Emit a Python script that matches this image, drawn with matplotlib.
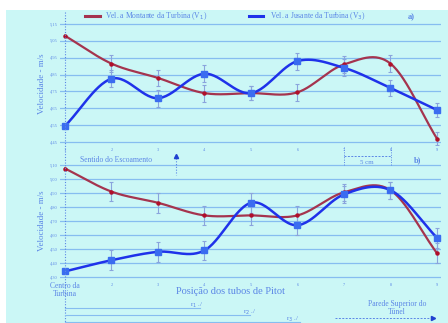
import numpy as np
import matplotlib
matplotlib.use('Agg')
import matplotlib.pyplot as plt
from matplotlib.patches import Rectangle

# Posições dos tubos de Pitot
pos = [1, 2, 3, 4, 5, 6, 7, 8, 9]

# a) velocidades (m/s)
a_montante = [5.08, 4.915, 4.83, 4.74, 4.74, 4.745, 4.91, 4.915, 4.47]
a_jusante = [4.545, 4.825, 4.71, 4.855, 4.74, 4.93, 4.89, 4.77, 4.64]
a_err = [0.0, 0.05, 0.05, 0.05, 0.04, 0.05, 0.05, 0.05, 0.04]
a_ticks = [4.45, 4.55, 4.65, 4.75, 4.85, 4.95, 5.05, 5.15]

# b) velocidades (m/s)
b_montante = [5.075, 4.91, 4.83, 4.74, 4.74, 4.74, 4.905, 4.92, 4.47]
b_jusante = [4.34, 4.42, 4.48, 4.49, 4.83, 4.67, 4.89, 4.92, 4.58]
b_err = [0.0, 0.07, 0.07, 0.07, 0.07, 0.07, 0.06, 0.06, 0.07]
b_ticks = [4.30, 4.40, 4.50, 4.60, 4.70, 4.80, 4.90, 5.00, 5.10]

BG = '#cbf7f6'
TXT = '#5b86e6'
GRID = '#86bdf0'
RED = '#a5344e'
BLUE = '#1f32ea'
FONT = 'Liberation Serif'
W, H = 448, 323


def suave(x, y, n=30):
    # curva suavizada (Catmull-Rom) passando pelos pontos
    x = np.asarray(x, float)
    y = np.asarray(y, float)
    px = np.concatenate([[2 * x[0] - x[1]], x, [2 * x[-1] - x[-2]]])
    py = np.concatenate([[2 * y[0] - y[1]], y, [2 * y[-1] - y[-2]]])
    xs, ys = [], []
    t = np.linspace(0, 1, n)
    for i in range(1, len(px) - 2):
        for p, out in ((px, xs), (py, ys)):
            p0, p1, p2, p3 = p[i - 1], p[i], p[i + 1], p[i + 2]
            out.extend(0.5 * (2 * p1 + (-p0 + p2) * t
                              + (2 * p0 - 5 * p1 + 4 * p2 - p3) * t ** 2
                              + (-p0 + 3 * p1 - 3 * p2 + p3) * t ** 3))
    return xs, ys


def px_axes(top, bottom):
    left, right = 60.35, 440.7
    return [left / W, 1 - bottom / H, (right - left) / W, (bottom - top) / H]


fig = plt.figure(figsize=(W / 100, H / 100), dpi=100, facecolor='white')
fig.patches.append(Rectangle((6 / W, 0), 1, 1 - 10 / H, transform=fig.transFigure,
                             facecolor=BG, edgecolor='none', zorder=-10))


def painel(rect, ylim, ticks, mont, jus, err, xlabels):
    ax = fig.add_axes(rect)
    ax.set_facecolor('none')
    ax.set_xlim(0.9, 9.08)
    ax.set_ylim(*ylim)
    for s in ax.spines.values():
        s.set_visible(False)
    for v in ticks:
        ax.axhline(v, color=GRID, lw=0.9, zorder=0)
    ax.set_yticks(ticks)
    ax.set_yticklabels([f'{v:.2f}'.replace('.', ',') for v in ticks],
                       fontsize=3.2, color=TXT, family=FONT)
    ax.set_xticks(pos)
    ax.set_xticklabels(xlabels, fontsize=3.2, color=TXT, family=FONT)
    ax.tick_params(length=0, pad=2)
    for serie in (mont, jus):
        ax.errorbar(pos[1:], serie[1:], yerr=err[1:], fmt='none', ecolor='#8aa4dd',
                    elinewidth=0.8, capsize=1.5, capthick=0.8, zorder=2)
    xs, ys = suave(pos, mont)
    ax.plot(xs, ys, color=RED, lw=1.6, zorder=3)
    ax.plot(pos, mont, 'o', ms=2.2, color='#b0102a', zorder=4)
    xs, ys = suave(pos, jus)
    ax.plot(xs, ys, color=BLUE, lw=1.8, zorder=3)
    ax.plot(pos, jus, 's', ms=3.8, color='#3a6cf0', mec='#3a6cf0', zorder=4)
    ax.set_ylabel('Velocidade - m/s', fontsize=6.5, color=TXT, family=FONT, labelpad=3)
    return ax


ax1 = painel(px_axes(22.3, 145.4), (4.43, 5.16), a_ticks, a_montante, a_jusante, a_err,
             [str(p) for p in pos])
ax2 = painel(px_axes(162.2, 279.8), (4.28, 5.12), b_ticks, b_montante, b_jusante, b_err,
             [''] + [str(p) for p in pos[1:]])


def fx(v):
    return (60.35 + (v - 0.9) * 46.5) / W


def fy(p):
    return 1 - p / H


# linha pontilhada do centro da turbina
fig.add_artist(plt.Line2D([fx(1), fx(1)], [fy(12), 0], color=TXT, lw=0.8, ls=(0, (1, 1.5))))

# legenda
fig.add_artist(plt.Line2D([85 / W, 100 / W], [fy(16), fy(16)], color=RED, lw=2.2))
fig.text(105 / W, fy(16), 'Vel. a Montante da Turbina (V$_1$)', fontsize=5.5,
         color=TXT, family=FONT, va='center')
fig.add_artist(plt.Line2D([249 / W, 263 / W], [fy(16), fy(16)], color=BLUE, lw=2.2))
fig.text(270 / W, fy(16), 'Vel. a Jusante da Turbina (V$_3$)', fontsize=5.5,
         color=TXT, family=FONT, va='center')
fig.text(408 / W, fy(17), 'a)', fontsize=6, color=TXT, family=FONT, va='center',
         weight='bold')
fig.text(414 / W, fy(160), 'b)', fontsize=6, color=TXT, family=FONT, va='center',
         weight='bold')

# sentido do escoamento
fig.text(80 / W, fy(160), 'Sentido do Escoamento', fontsize=5.5, color=TXT,
         family=FONT, va='center')
fig.add_artist(plt.Line2D([176 / W, 176 / W], [fy(158), fy(175)], color=TXT, lw=0.8,
                          ls=(0, (1, 1.5))))
fig.add_artist(plt.Line2D([176 / W], [fy(156)], marker='^', ms=3, color='#2040d0'))

# cota de 5 cm
for v in (7, 8):
    fig.add_artist(plt.Line2D([fx(v), fx(v)], [fy(147), fy(166)], color=TXT, lw=0.7,
                              ls=(0, (1, 1.5))))
fig.add_artist(plt.Line2D([fx(7), fx(8)], [fy(156), fy(156)], color=TXT, lw=0.7,
                          ls=(0, (2, 1.5))))
fig.text((fx(7) + fx(8)) / 2, fy(162), '5 cm', fontsize=5, color=TXT, family=FONT,
         ha='center', va='center')

# textos do eixo horizontal
fig.text(fx(1), fy(290), 'Centro da\nTurbina', fontsize=5.5, color=TXT, family=FONT,
         ha='center', va='center', linespacing=1.0)
fig.text(230 / W, fy(292), 'Posição dos tubos de Pitot', fontsize=7.5, color=TXT,
         family=FONT, ha='center', va='center')
fig.text(397 / W, fy(308), 'Parede Superior do\nTúnel', fontsize=5.5, color=TXT,
         family=FONT, ha='center', va='center', linespacing=1.1)

# raios r1, r2, r3
for nome, xt, yt, xe in (('r$_1$', 197, 305, 200), ('r$_2$', 250, 312, 250),
                         ('r$_3$', 293, 319, 300)):
    fig.add_artist(plt.Line2D([fx(1), xe / W], [fy(yt + 3), fy(yt + 3)], color=GRID,
                              lw=0.8))
    fig.text(xt / W, fy(yt), nome + ' ./', fontsize=5, color=TXT, family=FONT,
             ha='center', va='center')
fig.add_artist(plt.Line2D([335 / W, 430 / W], [fy(318), fy(318)], color=TXT, lw=0.7,
                          ls=(0, (2, 1.5))))
fig.add_artist(plt.Line2D([433 / W], [fy(318)], marker='>', ms=3, color='#2040d0'))

fig.savefig('out.png', dpi=100, facecolor='white')
